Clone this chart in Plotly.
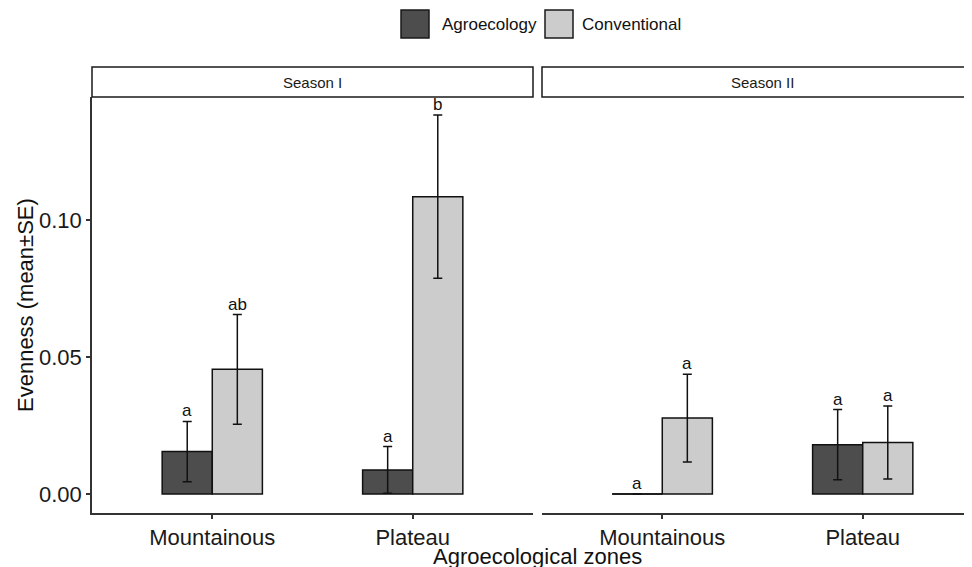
import plotly.graph_objects as go

# ---- data ----
zones = ["Mountainous", "Plateau"]
seasons = ["Season I", "Season II"]
systems = ["Agroecology", "Conventional"]
agro_mean_s1 = [0.0155, 0.0088]
agro_se_s1 = [0.0110, 0.0085]
conv_mean_s1 = [0.0455, 0.1085]
conv_se_s1 = [0.0200, 0.0298]
agro_mean_s2 = [0.0, 0.0180]
agro_se_s2 = [0.0, 0.0128]
conv_mean_s2 = [0.0277, 0.0188]
conv_se_s2 = [0.0160, 0.0133]
letters_agro_s1 = ["a", "a"]
letters_conv_s1 = ["ab", "b"]
letters_agro_s2 = ["a", "a"]
letters_conv_s2 = ["a", "a"]
y_ticks = [0.0, 0.05, 0.10]
y_tick_labels = ["0.00", "0.05", "0.10"]

colors = {"Agroecology": "#4d4d4d", "Conventional": "#cccccc"}
FONT = "Liberation Sans, Arial, sans-serif"
W, H = 972, 567
OFF = 8  # page body margin offset


def px(x):
    return (x - OFF) / W


def py(y):
    return 1 - (y - OFF) / H


fig = go.Figure()

panel_data = [
    ("x", "y", {"Agroecology": (agro_mean_s1, agro_se_s1, letters_agro_s1),
                "Conventional": (conv_mean_s1, conv_se_s1, letters_conv_s1)}),
    ("x2", "y2", {"Agroecology": (agro_mean_s2, agro_se_s2, letters_agro_s2),
                  "Conventional": (conv_mean_s2, conv_se_s2, letters_conv_s2)}),
]

dodge = 0.5
bar_w = dodge / 2
xpos = list(range(len(zones)))
annotations = []
for xa, ya, series in panel_data:
    for k, sysname in enumerate(systems):
        means, ses, lets = series[sysname]
        fig.add_trace(go.Bar(
            x=xpos, y=means, name=sysname, xaxis=xa, yaxis=ya,
            offsetgroup=sysname, showlegend=False,
            marker=dict(color=colors[sysname], line=dict(color="#111111", width=1.5)),
            error_y=dict(type="data", array=ses, visible=True, color="#111111",
                         thickness=1.5, width=4.5),
        ))
        offset = -bar_w / 2 if k == 0 else bar_w / 2
        for i, (m, s, l) in enumerate(zip(means, ses, lets)):
            annotations.append(dict(
                x=i + offset, y=m + s, xref=xa, yref=ya, text=l, showarrow=False,
                yanchor="bottom", yshift=-1,
                font=dict(family=FONT, size=17, color="#111111")))
            if m == 0:
                fig.add_trace(go.Scatter(
                    x=[i + offset - bar_w / 2, i + offset + bar_w / 2], y=[m, m],
                    xaxis=xa, yaxis=ya, mode="lines", showlegend=False,
                    line=dict(color="#111111", width=1.5), hoverinfo="skip"))

# layout geometry (screen pixels)
L1, R1 = 92, 533
L2 = 542
R2_full = L2 + (R1 - L1)
TOP, BOT = 97, 513
ppu = (R1 - L1) / 2.2
R2_dom = W + OFF  # right edge of figure on screen
x2_max = -0.6 + (R2_dom - L2) / ppu
ymin, ymax = -0.00693, 0.14489

axis_common = dict(
    showline=True, linecolor="#333333", linewidth=1.5, ticks="outside", ticklen=4,
    tickwidth=1.5, tickcolor="#333333", showgrid=False, zeroline=False,
    tickfont=dict(family=FONT, size=22, color="#1a1a1a"),
    tickvals=xpos, ticktext=zones,
)

fig.update_layout(
    width=W, height=H, margin=dict(l=0, r=0, t=0, b=0),
    paper_bgcolor="white", plot_bgcolor="white",
    barmode="group", bargap=1 - dodge, bargroupgap=0,
    xaxis=dict(domain=[px(L1), px(R1)], range=[-0.6, 1.6], anchor="y", **axis_common),
    xaxis2=dict(domain=[px(L2), 1.0], range=[-0.6, x2_max], anchor="y2", **axis_common),
    yaxis=dict(domain=[py(BOT), py(TOP)], range=[ymin, ymax], anchor="x",
               showline=True, linecolor="#333333", linewidth=1.5, ticks="outside",
               ticklen=4, tickwidth=1.5, tickcolor="#333333", showgrid=False,
               zeroline=False, tickvals=y_ticks, ticktext=y_tick_labels,
               tickfont=dict(family=FONT, size=22, color="#1a1a1a")),
    yaxis2=dict(domain=[py(BOT), py(TOP)], range=[ymin, ymax], anchor="x2",
                showline=False, showticklabels=False, ticks="", showgrid=False,
                zeroline=False),
    showlegend=False,
)

shapes = []
# facet strips
STRIP_TOP = 67
for (l, r), lab in zip([(L1, R1), (L2, R2_full)], seasons):
    shapes.append(dict(type="rect", xref="paper", yref="paper",
                       x0=px(l), x1=px(r), y0=py(TOP), y1=py(STRIP_TOP),
                       line=dict(color="#1a1a1a", width=1.5), fillcolor="white", layer="above"))
    annotations.append(dict(x=px((l + r) / 2), y=py((TOP + STRIP_TOP) / 2), xref="paper",
                            yref="paper", text=lab, showarrow=False, xanchor="center",
                            yanchor="middle",
                            font=dict(family=FONT, size=15, color="#1a1a1a")))

# legend (manual)
leg = [(401, 440), (545, 580)]
for (sx, tx), sysname in zip(leg, systems):
    shapes.append(dict(type="rect", xref="paper", yref="paper",
                       x0=px(sx), x1=px(sx + 28), y0=py(38), y1=py(10),
                       line=dict(color="#1a1a1a", width=1.5), fillcolor=colors[sysname]))
    annotations.append(dict(x=px(tx), y=py(24), xref="paper", yref="paper", text=sysname,
                            showarrow=False, xanchor="left", yanchor="middle",
                            font=dict(family=FONT, size=17, color="#111111")))

# axis titles
annotations.append(dict(x=px((L1 + R2_full) / 2), y=py(556), xref="paper", yref="paper",
                        text="Agroecological zones", showarrow=False, xanchor="center",
                        yanchor="middle", font=dict(family=FONT, size=22, color="#111111")))
annotations.append(dict(x=px(25), y=py((TOP + BOT) / 2), xref="paper", yref="paper",
                        text="Evenness (mean±SE)", showarrow=False, textangle=-90,
                        xanchor="center", yanchor="middle",
                        font=dict(family=FONT, size=22, color="#111111")))

fig.update_layout(shapes=shapes, annotations=annotations)
fig.write_html("out.html")
